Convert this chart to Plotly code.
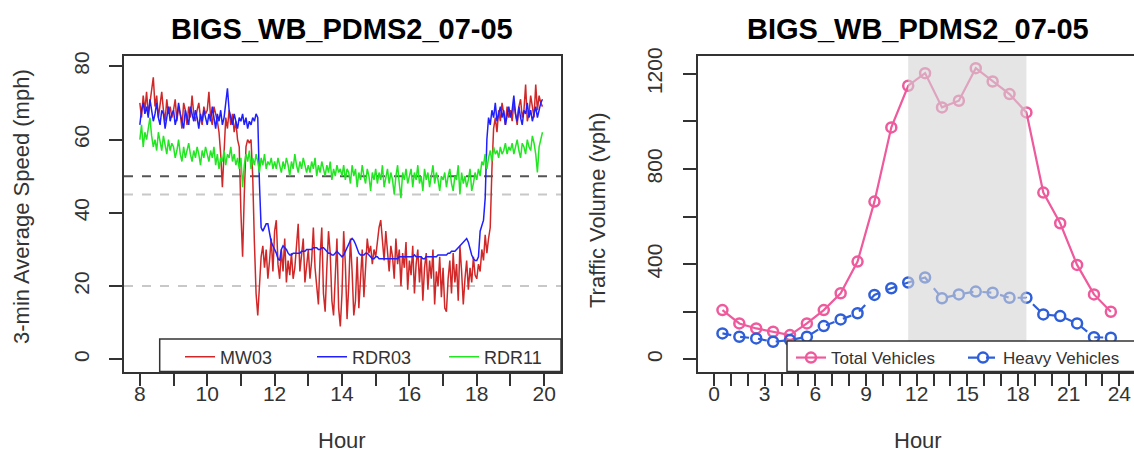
import plotly.graph_objects as go

# ---- left panel: 3-min average speed, 8:00 - 20:00 ----
minutes = list(range(0, 720, 3))
speed_hour = [8 + m / 60 for m in minutes]

mw03 = [
    70, 66, 72, 68, 73, 67, 70, 74, 77, 69, 72, 66, 70, 73, 68, 65, 71, 67, 69, 66,
    68, 71, 65, 69, 67, 63, 70, 68, 64, 69, 66, 72, 67, 65, 68, 70, 66, 64, 69, 67,
    68, 73, 66, 64, 69, 67, 65, 62, 56, 47, 58, 66, 63, 68, 64, 67, 62, 65, 60, 58,
    40, 28, 45, 58, 60, 59, 60, 50, 32, 18, 12, 20, 28, 31, 25, 30, 22, 27, 33, 24,
    35, 38, 26, 22, 30, 24, 33, 21, 27, 23, 29, 22, 25, 31, 37, 24, 28, 33, 21, 26,
    30, 22, 27, 36, 25, 20, 15, 28, 36, 18, 13, 25, 35, 29, 16, 12, 22, 33, 14, 9,
    18, 35, 26, 11, 20, 33, 24, 12, 16, 28, 14, 22, 30, 17, 26, 33, 29, 31, 26, 30,
    28, 32, 36, 38, 33, 27, 35, 30, 24, 31, 28, 22, 33, 26, 30, 20, 29, 25, 32, 19,
    27, 23, 31, 18, 26, 30, 21, 28, 16, 25, 29, 19, 27, 22, 30, 15, 24, 20, 28, 17,
    25, 14, 13, 22, 27, 18, 29, 21, 26, 16, 31, 24, 15, 22, 27, 19, 25, 21, 28, 23,
    22, 26, 24, 30, 27, 34, 29, 33, 36, 52, 63, 66, 62, 68, 65, 70, 67, 64, 69, 66,
    68, 65, 70, 67, 64, 69, 71, 66, 68, 75, 65, 67, 72, 69, 66, 75, 68, 72, 70, 69,
]

rdr03 = [
    64, 68, 70, 67, 69, 66, 71, 68, 65, 67, 70, 66, 64, 68, 67, 63, 66, 69, 65, 67,
    68, 64, 66, 70, 67, 65, 63, 68, 66, 64, 69, 67, 65, 68, 66, 63, 67, 65, 68, 66,
    64, 67, 65, 69, 66, 63, 67, 65, 68, 64, 66, 70, 74, 68, 66, 64, 67, 65, 63, 66,
    65, 67, 64, 66, 63, 65, 64, 66, 65, 67, 66, 48, 36, 35, 36, 37, 37, 34, 32, 31,
    30, 29, 27.5, 27, 30, 31, 30.5, 30, 29, 28.5, 28.5, 29, 29, 29, 29, 29, 29.5, 29.5, 29.5, 30,
    30, 30, 30, 30.5, 30.5, 30.5, 30, 30, 30.5, 30.5, 30, 29.5, 29, 29, 28.5, 28.5, 29, 29.5, 29, 28.5,
    28, 28.5, 29.5, 30.5, 31.5, 32.5, 33, 32.5, 31.5, 30, 29, 28.5, 28.5, 28.5, 29, 29, 28.5, 28, 27.5, 27.5,
    28, 28, 27.5, 27.5, 27.5, 27.5, 27.5, 27.5, 27.5, 27.5, 27.5, 27.5, 27.5, 27.5, 28, 28, 28, 28, 28, 28,
    28, 28, 28, 28.5, 28, 28, 28, 28, 27.5, 27.5, 28, 28, 28, 28, 28, 28, 28, 28.5, 28.5, 28.5,
    28.5, 28.5, 28.5, 29, 29, 29.5, 29.5, 29.5, 30, 30.5, 31, 31.5, 32, 32.5, 33, 32, 30, 28.5, 27.5, 27,
    27, 28, 35, 36.5, 38, 44, 60, 66, 64, 68, 66, 70, 65, 67, 69, 66, 68, 64, 67, 69,
    66, 68, 72, 67, 65, 69, 66, 64, 68, 67, 70, 66, 68, 65, 67, 69, 66, 68, 70, 71,
]

rdr11 = [
    60, 64, 58, 62, 60, 63, 66, 61, 58, 60, 57, 62, 59, 57, 61, 58, 56, 60, 57, 59,
    58, 55, 57, 60, 56, 54, 58, 55, 57, 59, 56, 54, 57, 55, 58, 56, 53, 57, 55, 58,
    56, 54, 57, 55, 58, 53, 56, 52, 55, 54, 57, 53, 56, 55, 58, 54, 56, 53, 55, 52,
    55, 47, 53, 56, 54, 57, 52, 55, 53, 56, 54, 51, 55, 53, 56, 52, 54, 53, 55, 52,
    54, 52, 55, 53, 51, 54, 52, 55, 53, 50, 54, 52, 56, 53, 51, 54, 52, 55, 53, 51,
    53, 51, 54, 52, 55, 50, 53, 51, 54, 52, 50, 53, 51, 54, 49, 52, 50, 53, 51, 52,
    50, 53, 49, 52, 51, 48, 53, 50, 52, 47, 51, 49, 53, 50, 48, 52, 50, 46, 51, 49,
    52, 48, 51, 49, 53, 47, 50, 52, 48, 51, 49, 45, 50, 53, 48, 44, 51, 49, 52, 48,
    50, 52, 47, 51, 49, 53, 48, 50, 46, 52, 49, 51, 47, 50, 53, 48, 51, 49, 46, 50,
    49, 51, 47, 50, 52, 48, 46, 50, 49, 53, 45, 51, 48, 50, 47, 49, 52, 46, 48, 51,
    49, 52, 50, 54, 53, 56, 52, 55, 57, 54, 58, 56, 57, 55, 58, 56, 57, 59, 56, 58,
    57, 59, 56, 58, 60, 57, 55, 59, 58, 56, 60, 58, 57, 61, 59, 56, 51, 58, 60, 62,
]

speed_refs = [50, 45, 20]
speed_ticks = [8, 9, 10, 11, 12, 13, 14, 15, 16, 17, 18, 19, 20]
speed_ticktext = ["8", "", "10", "", "12", "", "14", "", "16", "", "18", "", "20"]

# ---- right panel: hourly traffic volume ----
vol_hour = [0.5, 1.5, 2.5, 3.5, 4.5, 5.5, 6.5, 7.5, 8.5, 9.5, 10.5, 11.5,
            12.5, 13.5, 14.5, 15.5, 16.5, 17.5, 18.5, 19.5, 20.5, 21.5, 22.5, 23.5]
total_veh = [207, 151, 130, 116, 102, 151, 207, 278, 411, 663, 975, 1150,
             1203, 1059, 1087, 1224, 1168, 1115, 1038, 701, 572, 397, 273, 200]
heavy_veh = [109, 95, 88, 74, 81, 95, 140, 168, 194, 271, 299, 323,
             344, 257, 273, 285, 280, 259, 259, 189, 182, 151, 93, 91]
peak_period = [11.5, 18.5]
vol_ticks = list(range(0, 25))
vol_ticktext = [str(h) if h % 3 == 0 else "" for h in vol_ticks]
vol_yticks = [0, 200, 400, 600, 800, 1000, 1200]
vol_yticktext = ["0", "", "400", "", "800", "", "1200"]

title = "BIGS_WB_PDMS2_07-05"

W, H = 1134, 459
FONT = "Arial, Liberation Sans, Helvetica, sans-serif"
INK = "#333333"

def px(x):  # pixel -> paper x
    return x / W

def py(y):  # pixel (from top) -> paper y
    return 1 - y / H

fig = go.Figure()

fig.add_trace(go.Scatter(x=speed_hour, y=mw03, mode="lines", name="MW03",
                         line=dict(color="#d02828", width=1.5), legend="legend"))
fig.add_trace(go.Scatter(x=speed_hour, y=rdr03, mode="lines", name="RDR03",
                         line=dict(color="#1f1fff", width=1.5), legend="legend"))
fig.add_trace(go.Scatter(x=speed_hour, y=rdr11, mode="lines", name="RDR11",
                         line=dict(color="#22e622", width=1.5), legend="legend"))

fig.add_trace(go.Scatter(x=vol_hour, y=total_veh, mode="lines+markers", name="Total Vehicles",
                         xaxis="x2", yaxis="y2", legend="legend2",
                         line=dict(color="#ee5a9c", width=2.2),
                         marker=dict(symbol="circle-open", size=10, line=dict(width=2.5))))
fig.add_trace(go.Scatter(x=vol_hour, y=heavy_veh, mode="lines+markers", name="Heavy Vehicles",
                         xaxis="x2", yaxis="y2", legend="legend2",
                         line=dict(color="#2f5fd8", width=2.2, dash="dash"),
                         marker=dict(symbol="circle-open", size=10, line=dict(width=2.5))))

axis_common = dict(showline=True, mirror=True, linecolor=INK, linewidth=1.5,
                   ticks="outside", ticklen=13, tickwidth=1.5, tickcolor=INK,
                   showgrid=False, zeroline=False, automargin=False,
                   tickfont=dict(family=FONT, size=21, color=INK))

box_top, box_bot = 56, 371.5
fig.update_layout(
    width=W, height=H,
    margin=dict(l=0, r=0, t=0, b=0, autoexpand=False),
    paper_bgcolor="white", plot_bgcolor="white",
    font=dict(family=FONT, color=INK),
    xaxis=dict(domain=[px(124), px(561)], range=[7.53, 20.5], anchor="y",
               tickmode="array", tickvals=speed_ticks, ticktext=speed_ticktext,
               ticklabelstandoff=-10, **axis_common),
    yaxis=dict(domain=[py(box_bot), py(box_top)], range=[-3.3, 82.8], anchor="x",
               tickmode="array", tickvals=[0, 20, 40, 60, 80], tickangle=-90,
               ticklabelstandoff=12, **axis_common),
    xaxis2=dict(domain=[px(697.5), 1.0], range=[-0.977, 24.87], anchor="y2",
                tickmode="array", tickvals=vol_ticks, ticktext=vol_ticktext,
                ticklabelstandoff=-10, **axis_common),
    yaxis2=dict(domain=[py(box_bot), py(box_top)], range=[-51, 1275], anchor="x2",
                tickmode="array", tickvals=vol_yticks, ticktext=vol_yticktext, tickangle=-90,
                ticklabelstandoff=12, **axis_common),
    legend=dict(orientation="h", x=px(180), y=py(357), xanchor="left", yanchor="middle",
                bgcolor="rgba(0,0,0,0)", font=dict(family=FONT, size=18, color=INK),
                entrywidth=87, entrywidthmode="pixels", tracegroupgap=0),
    legend2=dict(orientation="h", x=px(791), y=py(358), xanchor="left", yanchor="middle",
                 bgcolor="rgba(0,0,0,0)", font=dict(family=FONT, size=17, color=INK),
                 entrywidth=127, entrywidthmode="pixels", tracegroupgap=0),
    showlegend=True,
)

# reference speeds
for v, col in zip(speed_refs, ["#555555", "#c8c8c8", "#c8c8c8"]):
    fig.add_shape(type="line", xref="x domain", yref="y", x0=0, x1=1, y0=v, y1=v,
                  line=dict(color=col, width=2, dash="dash"), layer="below")

# peak period shading (drawn over the lines, semi transparent)
fig.add_shape(type="rect", xref="x2", yref="y2 domain", x0=peak_period[0], x1=peak_period[1],
              y0=0, y1=1, fillcolor="rgb(212,212,212)", opacity=0.6, line=dict(width=0),
              layer="above")

# legend boxes
fig.add_shape(type="rect", xref="paper", yref="paper", x0=px(159.7), x1=px(561),
              y0=py(box_bot), y1=py(339), fillcolor="white", line=dict(color=INK, width=1.5),
              layer="above")
fig.add_shape(type="rect", xref="paper", yref="paper", x0=px(787), x1=px(1140),
              y0=py(box_bot), y1=py(341), fillcolor="white", line=dict(color=INK, width=1.5),
              layer="above")

# titles and axis labels
for cx in (342, 918):
    fig.add_annotation(text="<b>" + title + "</b>", xref="paper", yref="paper",
                       x=px(cx), y=py(29), xanchor="center", yanchor="middle", showarrow=False,
                       font=dict(family=FONT, size=29, color="black"))
    fig.add_annotation(text="Hour", xref="paper", yref="paper", x=px(cx), y=py(440),
                       xanchor="center", yanchor="middle", showarrow=False,
                       font=dict(family=FONT, size=22, color=INK))
fig.add_annotation(text="3-min Average Speed (mph)", xref="paper", yref="paper",
                   x=px(22), y=py(207), xanchor="center", yanchor="middle", textangle=-90,
                   showarrow=False, font=dict(family=FONT, size=22, color=INK))
fig.add_annotation(text="Traffic Volume (vph)", xref="paper", yref="paper",
                   x=px(598), y=py(210), xanchor="center", yanchor="middle", textangle=-90,
                   showarrow=False, font=dict(family=FONT, size=22, color=INK))

# the page is photographed at 1134 px: drop the default body margin
fig.write_html("out.html", config={"displayModeBar": False},
               post_script="document.body.style.margin='0px';")
